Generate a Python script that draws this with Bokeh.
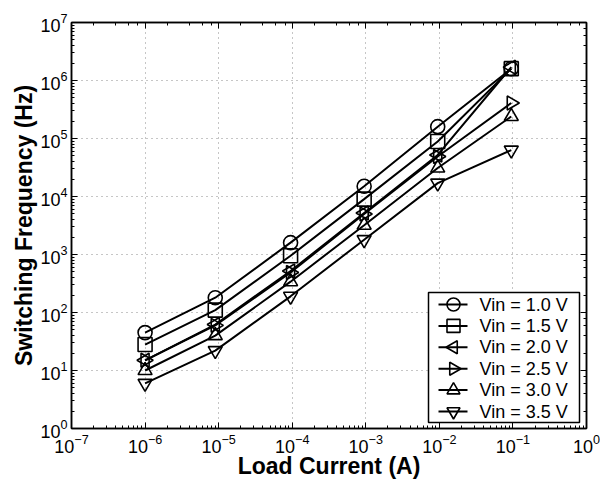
import math
from bokeh.plotting import figure
from bokeh.models import LogAxis, FixedTicker
from bokeh.core.properties import value
from bokeh.embed import file_html
from bokeh.resources import INLINE

# Load current (A) and switching frequency (Hz) for each input voltage
load_current = [1e-6, 9e-6, 9.5e-5, 9.5e-4, 9.5e-3, 9.5e-2]
f_vin_10 = [45, 180, 1600, 15000, 160000, 1.6e6]
f_vin_15 = [28, 110, 950, 9000, 89000, 1.6e6]
f_vin_20 = [15, 62, 520, 5200, 52000, 1.7e6]
f_vin_25 = [15, 60, 490, 5000, 49000, 4.1e5]
f_vin_30 = [10, 40, 340, 3200, 31000, 2.4e5]
f_vin_35 = [6, 22, 190, 1800, 17000, 63000]

labels = ["Vin = 1.0 V", "Vin = 1.5 V", "Vin = 2.0 V",
          "Vin = 2.5 V", "Vin = 3.0 V", "Vin = 3.5 V"]
series = [f_vin_10, f_vin_15, f_vin_20, f_vin_25, f_vin_30, f_vin_35]
markers = [("circle", 0.0), ("square", 0.0), ("triangle", math.pi / 2),
           ("triangle", -math.pi / 2), ("triangle", 0.0), ("inverted_triangle", 0.0)]

FONT = "Liberation Sans"

# frame geometry (pixels); the legend below is placed in these pixel terms
FRAME_LEFT, FRAME_TOP, FRAME_W, FRAME_H = 71, 22, 515, 406
PX_PER_DEC_X, PX_PER_DEC_Y = FRAME_W / 7.0, FRAME_H / 7.0


def sx_to_x(px):
    return 10 ** ((px - FRAME_LEFT) / PX_PER_DEC_X - 7)


def sy_to_y(py):
    return 10 ** (7 - (py - FRAME_TOP) / PX_PER_DEC_Y)


p = figure(frame_width=FRAME_W, frame_height=FRAME_H,
           x_axis_type="log", y_axis_type="log",
           x_range=(1e-7, 1), y_range=(1, 1e7),
           output_backend="svg", toolbar_location=None,
           min_border_left=FRAME_LEFT, min_border_right=600 - FRAME_LEFT - FRAME_W,
           min_border_top=FRAME_TOP, min_border_bottom=479 - FRAME_TOP - FRAME_H)
p.background_fill_color = "white"
p.border_fill_color = "white"
p.outline_line_color = "black"
p.outline_line_width = 1.5

x_ticks = [10.0 ** k for k in range(-7, 1)]
y_ticks = [10.0 ** k for k in range(0, 8)]

for g in (p.xgrid, p.ygrid):
    g.grid_line_color = "#8c8c8c"
    g.grid_line_dash = "1 4"
    g.grid_line_width = 1
p.xgrid.ticker = FixedTicker(ticks=x_ticks)
p.ygrid.ticker = FixedTicker(ticks=y_ticks)


def style_axis(ax, show_labels=True):
    ax.major_tick_in = 6
    ax.major_tick_out = 0
    ax.minor_tick_in = 3
    ax.minor_tick_out = 0
    ax.axis_line_color = "black"
    ax.axis_line_width = 1.5
    ax.major_tick_line_width = 1
    ax.minor_tick_line_width = 1
    ax.major_label_text_font = FONT
    ax.major_label_text_font_size = "18px"
    ax.major_label_text_color = "black"
    if not show_labels:
        ax.major_label_text_font_size = "0px"
        ax.major_label_text_alpha = 0


style_axis(p.xaxis[0])
style_axis(p.yaxis[0])
p.xaxis[0].axis_label = "Load Current (A)"
p.yaxis[0].axis_label = "Switching Frequency (Hz)"
for ax in (p.xaxis[0], p.yaxis[0]):
    ax.axis_label_text_font = FONT
    ax.axis_label_text_font_style = "bold"
    ax.axis_label_text_font_size = "23px"
    ax.axis_label_text_color = "black"
p.xaxis[0].major_label_standoff = 5
p.xaxis[0].axis_label_standoff = -3
p.yaxis[0].major_label_standoff = 4
p.yaxis[0].axis_label_standoff = 0

top = LogAxis()
right = LogAxis()
style_axis(top, False)
style_axis(right, False)
p.add_layout(top, "above")
p.add_layout(right, "right")

# data series
for ys, (mk, ang) in zip(series, markers):
    p.line(load_current, ys, line_color="black", line_width=2)
    p.scatter(load_current, ys, marker=mk, angle=ang, size=14,
              fill_color=None, line_color="black", line_width=1.6)

# legend box, lower right corner of the frame
p.quad(left=[sx_to_x(428)], right=[sx_to_x(579)],
       top=[sy_to_y(292)], bottom=[sy_to_y(422)],
       fill_color="white", line_color="black", line_width=1.5)

row_y = [sy_to_y(304 + 21.4 * i) for i in range(len(labels))]
for yy, (mk, ang) in zip(row_y, markers):
    p.line([sx_to_x(438), sx_to_x(467)], [yy, yy], line_color="black", line_width=2)
    p.scatter([sx_to_x(453)], [yy], marker=mk, angle=ang, size=13,
              fill_color=None, line_color="black", line_width=1.6)
p.text(x=[sx_to_x(479)] * len(labels), y=row_y, text=labels,
       text_font=value(FONT), text_font_size="18px", text_color="black",
       text_baseline="middle", text_align="left")

open("out.html", "w").write(file_html(p, INLINE))
